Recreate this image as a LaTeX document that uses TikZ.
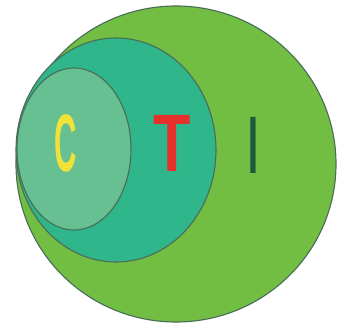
\documentclass[tikz,border=0pt]{standalone}
\usepackage{fontspec}
\setmainfont{Liberation Sans}
\usetikzlibrary{positioning}
\definecolor{ctiOuter}{HTML}{72BE43}
\definecolor{ctiMid}{HTML}{2FB68A}
\definecolor{ctiIn}{HTML}{66C091}
\definecolor{ctiEdge}{HTML}{4A6E5A}
\definecolor{ctiYellow}{HTML}{F1E23A}
\definecolor{ctiRed}{HTML}{E5302B}
\definecolor{ctiDark}{HTML}{1E5A3C}

\begin{document}
\begin{tikzpicture}[x=0.025cm,y=-0.025cm,
      set/.style={draw=ctiEdge,line width=0.8pt},
      lbl/.style={font=\fontsize{58}{58}\selectfont,inner sep=0pt}]
      \useasboundingbox (0,0) rectangle (339,334);
      \fill[white] (0,0) rectangle (339,334);
      \draw[set,fill=ctiOuter] (176,164) ellipse [x radius=160,y radius=158];
      \draw[set,fill=ctiMid] (116,150) ellipse [x radius=100,y radius=112];
      \draw[set,fill=ctiIn] (74,149) ellipse [x radius=57,y radius=81];
      \node[lbl,text=ctiYellow,xscale=0.38,font=\fontsize{58}{58}\selectfont\bfseries] (c) at (66,143) {C};
      \node[lbl,text=ctiRed,xscale=0.75,font=\fontsize{58}{58}\selectfont\bfseries] (t) at (172,143) {T};
      \node[lbl,text=ctiDark,xscale=0.7] (i) at (253,145) {I};
    \end{tikzpicture}
\end{document}
